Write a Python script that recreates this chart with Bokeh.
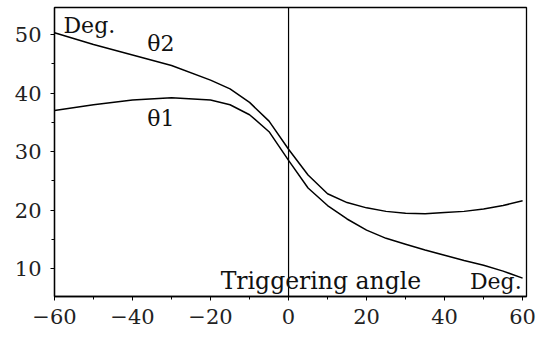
from bokeh.plotting import figure
from bokeh.models import Range1d, FixedTicker, Span, Label
from bokeh.embed import file_html
from bokeh.resources import INLINE

# Data
angle = [-60, -50, -40, -30, -20, -15, -10, -5, 0, 5, 10, 15, 20, 25, 30, 35, 40, 45, 50, 55, 60]
theta2 = [50.3, 48.3, 46.5, 44.7, 42.2, 40.7, 38.4, 35.2, 30.4, 26.0, 22.8, 21.3, 20.4, 19.8, 19.5,
          19.4, 19.6, 19.8, 20.2, 20.8, 21.6]
theta1 = [37.0, 38.0, 38.8, 39.2, 38.8, 38.0, 36.3, 33.4, 28.5, 23.8, 20.8, 18.5, 16.6, 15.2, 14.2,
          13.2, 12.3, 11.4, 10.6, 9.6, 8.4]
x_ticks = [-60, -40, -20, 0, 20, 40, 60]
x_minor = [-50, -30, -10, 10, 30, 50]
x_tick_labels = {-60: "\u221260", -40: "\u221240", -20: "\u221220", 0: "0", 20: "20", 40: "40", 60: "60"}
y_ticks = [10, 20, 30, 40, 50]
y_minor = [15, 25, 35, 45]

FONT = "DejaVu Serif"

p = figure(width=548, height=337, output_backend="svg", toolbar_location=None,
           x_range=Range1d(-60, 61.0), y_range=Range1d(5.27, 54.6),
           min_border_left=54, min_border_right=22, min_border_top=7, min_border_bottom=41)
p.grid.visible = False
p.outline_line_color = "black"
p.outline_line_width = 1.3
p.background_fill_color = "white"
p.border_fill_color = "white"

for ax in (p.xaxis[0], p.yaxis[0]):
    ax.axis_line_color = "black"
    ax.axis_line_width = 1.3
    ax.major_tick_in = 0
    ax.major_tick_out = 4
    ax.minor_tick_in = 0
    ax.minor_tick_out = 3
    ax.major_tick_line_color = "black"
    ax.minor_tick_line_color = "black"
    ax.major_label_text_font = FONT
    ax.major_label_text_font_size = "21px"
    ax.major_label_text_color = "#222222"

p.xaxis.ticker = FixedTicker(ticks=x_ticks, minor_ticks=x_minor)
p.xaxis.major_label_overrides = x_tick_labels
p.xaxis.major_label_standoff = 8
p.yaxis.ticker = FixedTicker(ticks=y_ticks, minor_ticks=y_minor)
p.yaxis.major_label_standoff = 9

p.add_layout(Span(location=0, dimension="height", line_color="black", line_width=1.2))

p.line(angle, theta2, line_color="black", line_width=1.5)
p.line(angle, theta1, line_color="black", line_width=1.5)

def lab(x, y, t, size="22px"):
    p.add_layout(Label(x=x, y=y, text=t, text_font=FONT, text_font_size=size,
                       text_color="#111111", text_baseline="alphabetic", text_align="left"))

lab(-57.7, 51.6, "Deg.")
lab(-36.2, 48.5, "\u03b82")
lab(-36.2, 35.7, "\u03b81")
lab(-17.4, 7.9, "Triggering angle", "23.5px")
lab(46.5, 7.9, "Deg.")

open("out.html", "w").write(file_html(p, INLINE))
